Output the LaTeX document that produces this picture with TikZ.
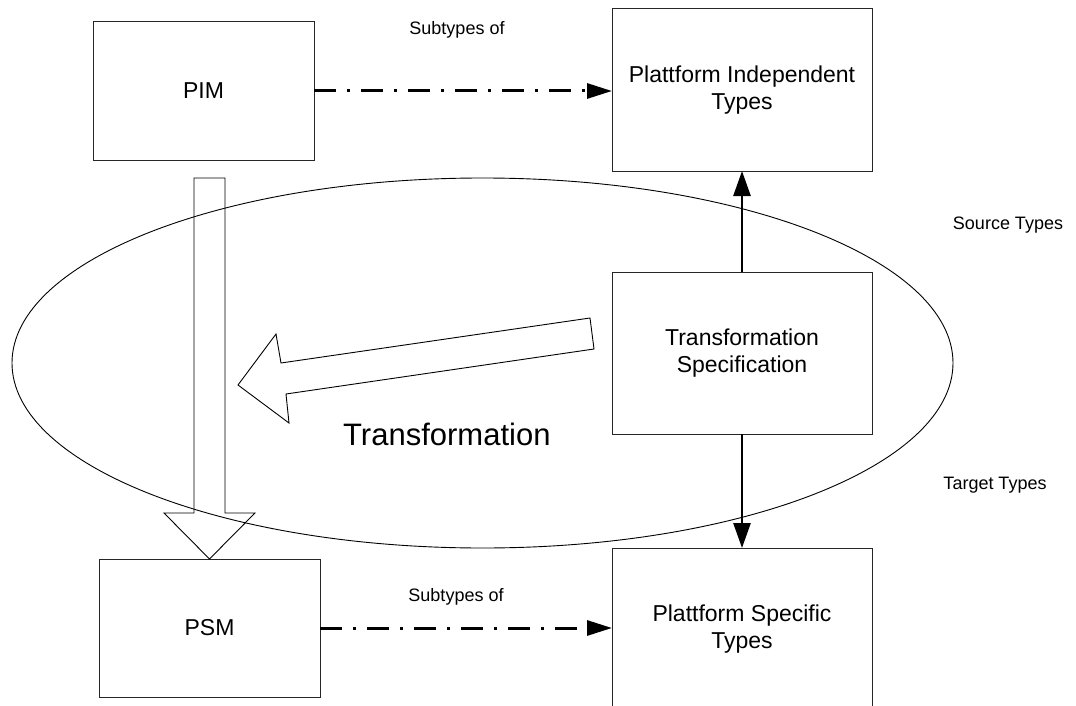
\documentclass[tikz,border=0pt]{standalone}
\usepackage{fontspec}
\setmainfont{Liberation Sans}
\usetikzlibrary{arrows.meta,calc}

\tikzset{
  typebox/.style={draw=black!85, line width=1pt, rectangle, inner sep=0pt, outer sep=0pt,
    align=center, font=\fontsize{23}{27.5}\selectfont},
  smalllabel/.style={inner sep=0pt, anchor=base, font=\fontsize{18}{21}\selectfont},
  subtypeline/.style={line width=3pt, dash pattern=on 22pt off 11pt on 3pt off 11pt,
    -{Triangle[length=25pt,width=15pt]}},
  typeline/.style={line width=2.6pt, -{Triangle[length=25pt,width=17pt]}},
  blockarrow/.style={draw=black, line width=0.9pt, line join=miter},
}

\begin{document}
\begin{tikzpicture}[x=1pt, y=-1pt]
  \useasboundingbox (0,0) rectangle (1076,706);
  \clip (0,0) rectangle (1076,706);

  % scope of the transformation
  \draw[line width=0.9pt] (482.5,363) ellipse [x radius=470.5, y radius=185];

  % models and type systems
  \node[typebox, minimum width=221pt, minimum height=138pt] (pim) at (203.5,91) {PIM};
  \node[typebox, minimum width=221pt, minimum height=138pt] (psm) at (209.5,628) {PSM};
  \node[typebox, minimum width=260pt, minimum height=162pt] (pit) at (742,90) {Plattform Independent\\Types};
  \node[typebox, minimum width=260pt, minimum height=162pt] (ts) at (742,353) {Transformation\\Specification};
  \node[typebox, minimum width=260pt, minimum height=162pt] (pst) at (742,629) {Plattform Specific\\Types};

  % subtype relations
  \draw[subtypeline] (pim.east) -- (pim.east -| pit.west);
  \draw[subtypeline] (psm.east) -- (psm.east -| pst.west);
  \node[smalllabel] (sub1) at (457,34.5) {Subtypes of};
  \node[smalllabel] (sub2) at (456,601) {Subtypes of};

  % source and target types of the specification
  \draw[typeline] (ts.north) -- (pit.south);
  \draw[typeline] (ts.south) -- (pst.north);
  \node[smalllabel] (src) at (1008,229) {Source Types};
  \node[smalllabel] (tgt) at (995,489) {Target Types};

  % block arrow from PIM down to PSM
  \coordinate (vtip) at (psm.north);
  \draw[blockarrow] ($(vtip)+(-15.5,-381)$) -- ($(vtip)+(15.5,-381)$) -- ($(vtip)+(15.5,-46)$)
    -- ($(vtip)+(45.5,-46)$) -- (vtip) -- ($(vtip)+(-45.5,-46)$) -- ($(vtip)+(-15.5,-46)$) -- cycle;

  % block arrow of the transformation
  \coordinate (dtip) at (238,385);
  \draw[blockarrow] (590,318) -- (281,363) -- (276,334) -- (dtip) -- (289,423) -- (286,394)
    -- (594,349) -- cycle;

  \node[inner sep=0pt, anchor=base west, font=\fontsize{31}{36}\selectfont] (trafo) at (343,445) {Transformation};
\end{tikzpicture}
\end{document}
